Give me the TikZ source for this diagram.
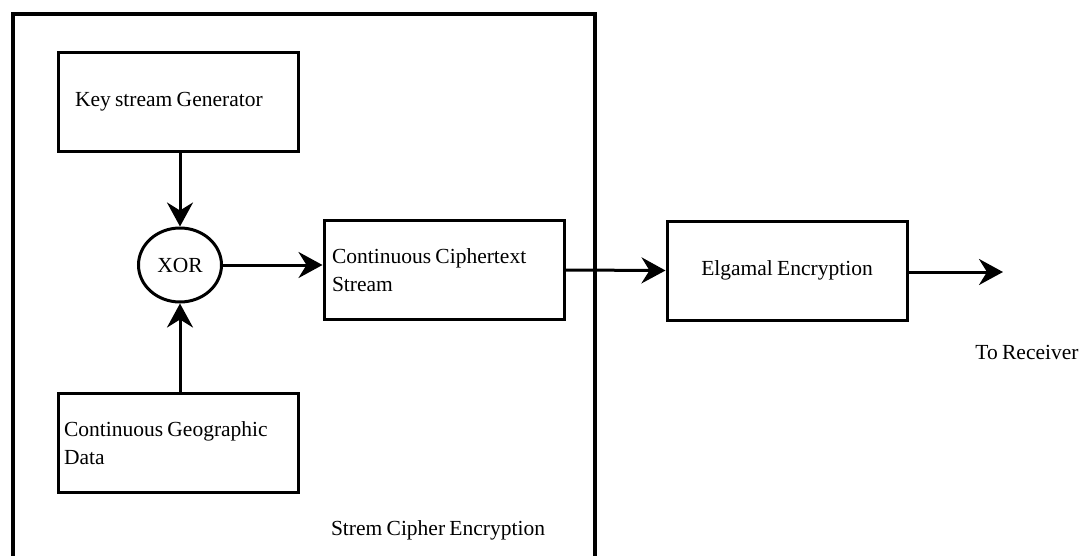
\documentclass[tikz,border=0pt]{standalone}
\usepackage{fontspec}
\setmainfont[WordSpace={0.8}]{Liberation Serif}
\usetikzlibrary{arrows.meta,shapes.geometric}
\tikzset{
  box/.style={draw, line width=3pt, minimum width=240pt, minimum height=99pt, inner sep=0pt, font=\fontsize{21.5}{28}\selectfont, execute at begin node={\spaceskip=0pt\xspaceskip=0pt\relax}},
  lbox/.style={box, align=left, text width=224pt},
  conn/.style={line width=3pt, -{Stealth[length=24pt,width=26pt,inset=8pt]}},
  lbl/.style={font=\fontsize{21.5}{28}\selectfont, inner sep=0pt},
}
\begin{document}
\begin{tikzpicture}[x=1pt,y=-1pt]
\useasboundingbox (0,0) rectangle (1085,555);
\clip (0,0) rectangle (1085,555);
\node[draw, line width=3.6pt, minimum width=582pt, minimum height=560pt, inner sep=0pt] (outer) at (304,294) {};
\node[box, align=left, text width=206pt] (key) at (178,102) {Key stream Generator};
\node[draw, ellipse, line width=3pt, minimum width=83pt, minimum height=74pt, inner sep=0pt, font=\fontsize{21.5}{28}\selectfont] (xor) at (180,265) {XOR};
\node[lbox] (ciph) at (444,270) {Continuous Ciphertext\\Stream};
\node[box] (elg) at (787,270.5) {Elgamal Encryption};
\node[lbox, text width=228pt] (data) at (178,443) {Continuous Geographic\\Data};
\node[lbl] (stream) at (438,530) {Strem Cipher Encryption};
\node[lbl] (recv) at (1027,352) {To Receiver};
\coordinate (out) at (1003,272);
\draw[conn] (key.south -| xor.north) -- (xor.north);
\draw[conn] (data.north -| xor.south) -- (xor.south);
\draw[conn] (xor.east) -- (ciph.west |- xor.east);
\draw[conn] (ciph.east) -- (elg.west);
\draw[conn] (elg.east |- out) -- (out);
\end{tikzpicture}
\end{document}
